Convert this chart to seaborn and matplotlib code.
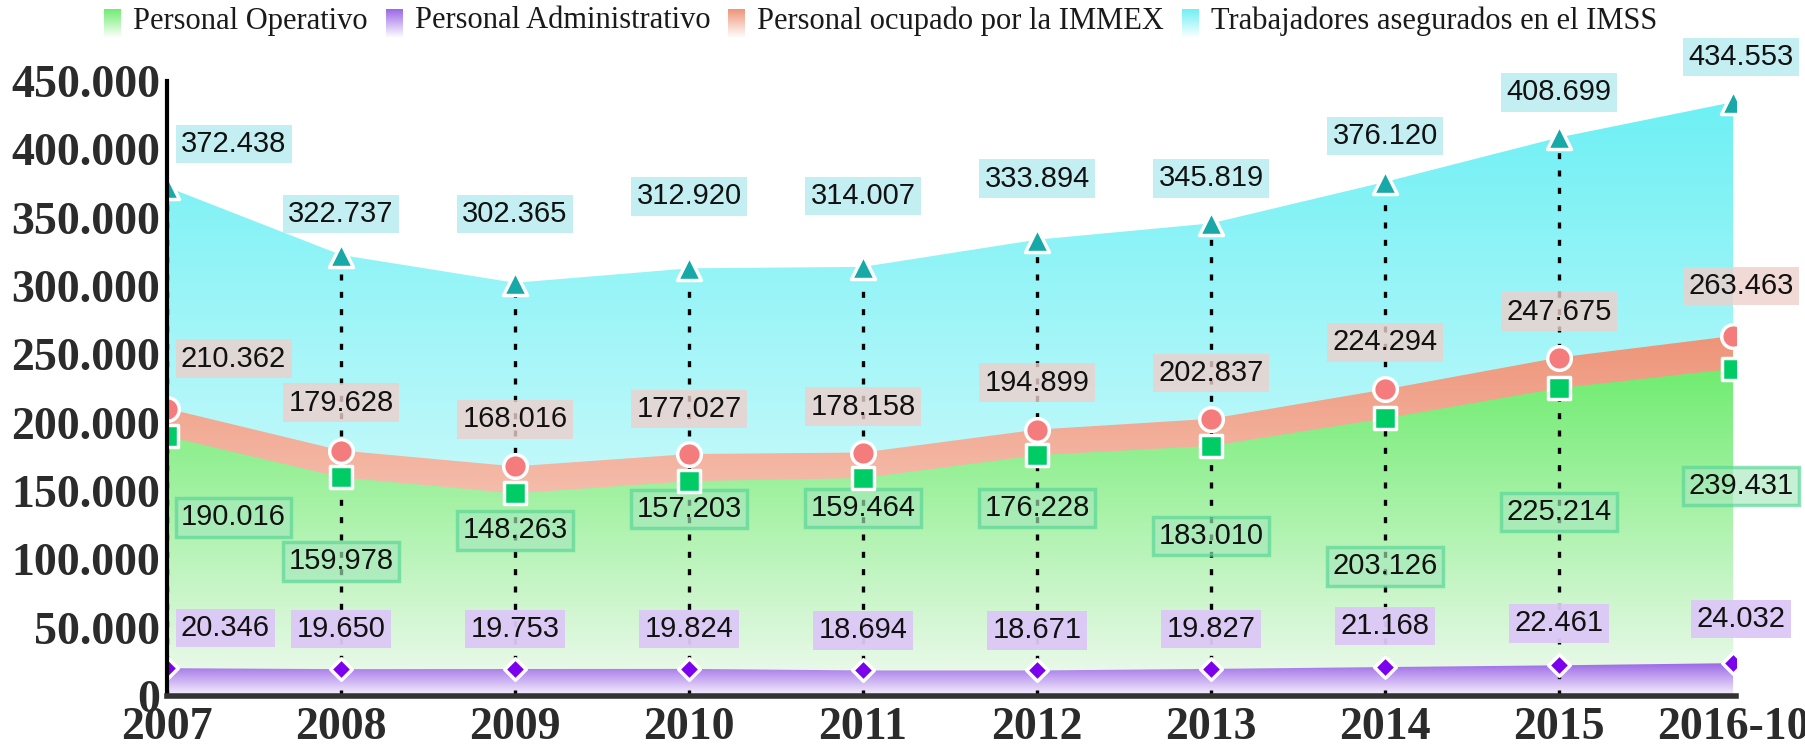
import numpy as np
import matplotlib
matplotlib.use('Agg')
import matplotlib.pyplot as plt
import matplotlib.colors as mcolors
import seaborn as sns

# Data (empleo, Ciudad Juarez style chart)
years = ['2007', '2008', '2009', '2010', '2011', '2012', '2013', '2014', '2015', '2016-10']
operativo = [190016, 159978, 148263, 157203, 159464, 176228, 183010, 203126, 225214, 239431]
administrativo = [20346, 19650, 19753, 19824, 18694, 18671, 19827, 21168, 22461, 24032]
immex = [210362, 179628, 168016, 177027, 178158, 194899, 202837, 224294, 247675, 263463]
imss = [372438, 322737, 302365, 312920, 314007, 333894, 345819, 376120, 408699, 434553]
legend_labels = ['Personal Operativo', 'Personal Administrativo',
                 'Personal ocupado por la IMMEX', 'Trabajadores asegurados en el IMSS']
y_ticks = [0, 50000, 100000, 150000, 200000, 250000, 300000, 350000, 400000, 450000]

# Label placement (pixels from the marker, + is up)
GAP_IMSS = [43, 41, 69, 72, 71, 61, 45, 46, 45, 45]
GAP_IMMEX = [50, 48, 47, 45, 46, 47, 46, 47, 46, 50]
GAP_OPER = [-81, -84, -37, -28, -30, -53, -90, -148, -124, -117]
GAP_ADMIN = [40, 40, 40, 40, 40, 40, 40, 41, 42, 44]

# Figure configuration
W, H = 1806, 749
LABEL_FS = 21
TICK_FS = 33
LEG_FS = 22

C_IMSS, C_IMMEX, C_OPER, C_ADMIN = '#6ef0f4', '#ee9478', '#70ec70', '#9b68e6'


def gradient(top_color, bottom_color='white', n=256):
    '''Return a vertical RGB gradient, bottom row first.'''
    t = np.linspace(0, 1, n)[:, None]
    top = np.array(mcolors.to_rgb(top_color))
    bot = np.array(mcolors.to_rgb(bottom_color))
    return (bot + (top - bot) * t)[:, None, :]


def gradient_area(ax, x, y, color, bottom_color, zorder):
    '''Fill the area under y with a vertical gradient.'''
    poly = ax.fill_between(x, 0, y, color='none', linewidth=0)
    img = ax.imshow(gradient(color, bottom_color), extent=[x[0], x[-1], 0, max(y)],
                    origin='lower', aspect='auto', zorder=zorder, interpolation='bilinear')
    img.set_clip_path(poly.get_paths()[0], transform=ax.transData)


def add_labels(ax, x, values, gaps, face, edge=None, alpha=1.0):
    for i, (xi, v, g) in enumerate(zip(x, values, gaps)):
        dx, ha = 0, 'center'
        if i == 0:
            dx, ha = 14, 'left'
        elif i == len(x) - 1:
            dx = 8
        box = dict(boxstyle='square,pad=0.18', facecolor=face, alpha=alpha,
                   edgecolor=edge if edge else 'none', linewidth=2.5)
        ax.annotate(f'{v:,}'.replace(',', '.'), (xi, v), xytext=(dx, g),
                    textcoords='offset pixels', ha=ha, va='center',
                    fontsize=LABEL_FS, family='Liberation Sans',
                    color='#111111', bbox=box, zorder=6)


sns.set_theme(style='white')
plt.rcParams['font.family'] = ['Liberation Serif', 'DejaVu Serif']

fig = plt.figure(figsize=(W / 100, H / 100), dpi=100)
ax = fig.add_axes([167 / W, 53 / H, (1736.5 - 167) / W, (696 - 81) / H])

x = np.arange(len(years))

# Stacked-looking gradient areas
gradient_area(ax, x, imss, C_IMSS, '#f4fefe', 1)
gradient_area(ax, x, immex, C_IMMEX, '#fdf2ee', 2)
gradient_area(ax, x, operativo, C_OPER, '#f2faf2', 3)
gradient_area(ax, x, administrativo, C_ADMIN, '#f8f4fd', 4)

# Dotted guides from IMSS points
ax.vlines(x[:-1], 0, imss[:-1], colors='black', linestyles=(0, (1.8, 3.4)),
          linewidth=2.4, zorder=5)

add_labels(ax, x, imss, GAP_IMSS, '#bdeef1', alpha=0.9)
add_labels(ax, x, immex, GAP_IMMEX, '#eed0cc', alpha=0.8)
add_labels(ax, x, operativo, GAP_OPER, '#a6e8bc', edge='#55d595', alpha=0.65)
add_labels(ax, x, administrativo, GAP_ADMIN, '#dcc8f6', alpha=0.95)

sns.scatterplot(x=x, y=imss, marker='^', s=300, color='#17a8a8', edgecolor='white',
                linewidth=2.5, zorder=8, ax=ax, legend=False)
sns.scatterplot(x=x, y=immex, marker='o', s=290, color='#f47c7c', edgecolor='white',
                linewidth=2.5, zorder=8, ax=ax, legend=False)
sns.scatterplot(x=x, y=operativo, marker='s', s=250, color='#00cc66', edgecolor='white',
                linewidth=2.5, zorder=8, ax=ax, legend=False)
sns.scatterplot(x=x, y=administrativo, marker='D', s=120, color='#7a00ee', edgecolor='white',
                linewidth=2.5, zorder=8, ax=ax, legend=False)

ax.set_xlim(0, 9.02)
ax.set_ylim(0, 450000)
ax.set_xticks(x)
ax.set_xticklabels(years)
ax.set_yticks(y_ticks)
ax.set_yticklabels([f'{v:,}'.replace(',', '.') for v in y_ticks])
for lab in ax.get_xticklabels() + ax.get_yticklabels():
    lab.set_fontweight('bold')
    lab.set_fontsize(TICK_FS)
    lab.set_color('#2b2b2b')
ax.tick_params(axis='y', length=0, pad=5)
ax.tick_params(axis='x', length=0, pad=8)
ax.set_xlabel('')
ax.set_ylabel('')
sns.despine(ax=ax)
ax.spines['left'].set_color('black')
ax.spines['left'].set_linewidth(3)
ax.spines['bottom'].set_color('#333333')
ax.spines['bottom'].set_linewidth(4)
ax.spines['left'].set_zorder(9)
ax.spines['bottom'].set_zorder(9)

# Hand-made legend with fading swatches
fig.canvas.draw()
renderer = fig.canvas.get_renderer()
lx = 104
for lab, col in zip(legend_labels, [C_OPER, C_ADMIN, C_IMMEX, C_IMSS]):
    pax = fig.add_axes([lx / W, (H - 38) / H, 17 / W, 29 / H])
    pax.imshow(gradient(col, 'white')[::-1], aspect='auto')
    pax.axis('off')
    t = fig.text((lx + 29) / W, 1 - 21 / H, lab, ha='left', va='center',
                 fontsize=LEG_FS, color='#1a1a1a')
    bb = t.get_window_extent(renderer)
    lx = bb.x1 + 18

fig.savefig('out.png', dpi=100)
